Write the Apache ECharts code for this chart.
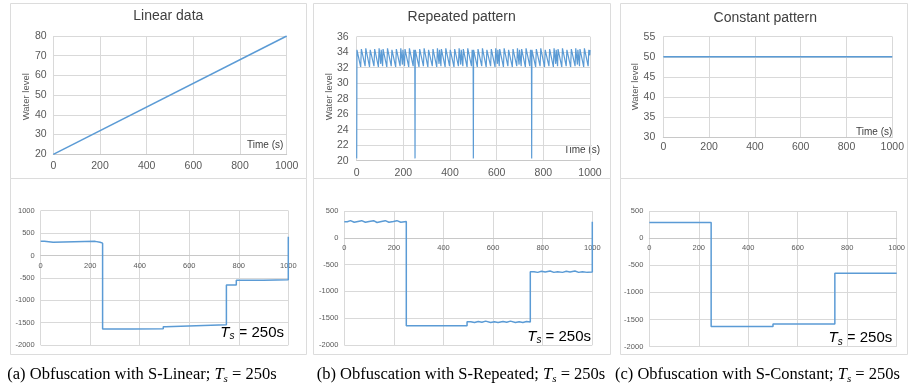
<!DOCTYPE html>
<html><head><meta charset="utf-8">
<script src="https://cdn.jsdelivr.net/npm/echarts@6/dist/echarts.min.js"></script>
<style>html,body{margin:0;padding:0;background:#fff}#c{width:911px;height:385px}</style>
</head><body><div id="c"></div>
<script>
// ---- data ----
const linTime = [0, 1000];
const linLevel = [20, 80];
const conTime = [0, 1000];
const conLevel = [50, 50];
// one 250 s period of the repeated pattern (offset in s, level)
const repOffset = [0, 1, 17, 20, 36, 39, 55, 58, 74, 77, 93, 96, 103, 105, 111, 113, 129, 132, 148, 151, 167, 170, 186, 189, 196, 198, 205, 207, 223, 226, 242, 245, 249];
const repLevel = [20.3, 34.3, 32.1, 34.4, 32.2, 34.5, 32.1, 34.3, 32.2, 34.4, 32.1, 34.5, 32.5, 34.3, 32.2, 34.4, 32.1, 34.5, 32.2, 34.3, 32.1, 34.4, 32.2, 34.5, 32.4, 34.3, 32.2, 34.4, 32.1, 34.5, 32.2, 34.3, 33.6];
const repPeriods = [0, 250, 500, 750];
const repEnd = [1000, 34.3];
// obfuscated (step) series: value holds from time[i] until time[i+1]
const blTime = [0, 15, 50, 220, 240, 250, 370, 495, 505, 750, 790, 900, 1000];
const blValue = [320, 295, 315, 295, 275, -1645, -1638, -1590, -1550, -660, -555, -545, 420];
const bmTime = [0, 12, 25, 40, 55, 70, 85, 100, 118, 132, 150, 165, 180, 198, 212, 228, 250, 495, 510, 525, 540, 555, 570, 590, 605, 620, 640, 655, 670, 690, 705, 720, 735, 750, 765, 780, 795, 810, 830, 845, 860, 880, 895, 910, 930, 945, 960, 980, 1000];
const bmValue = [300, 320, 290, 305, 320, 290, 305, 320, 285, 305, 320, 290, 305, 320, 290, 305, -1640, -1565, -1580, -1560, -1575, -1555, -1580, -1565, -1580, -1560, -1575, -1555, -1580, -1565, -1580, -1560, -1570, -632, -645, -625, -640, -620, -645, -632, -645, -625, -640, -620, -645, -632, -645, -640, 300];
const brTime = [0, 250, 500, 750, 1000];
const brValue = [290, -1630, -1580, -648, -648];
const xTicks = {min: 0, max: 1000, interval: 200};
const titles = ['Linear data', 'Repeated pattern', 'Constant pattern'];
const captions = ['(a) Obfuscation with S-Linear; ', '(b) Obfuscation with S-Repeated; ', '(c) Obfuscation with S-Constant; '];

// ---- build ----
const zip = (a, b) => a.map((t, i) => [t, b[i]]);
const repData = [];
repPeriods.forEach(p => repOffset.forEach((o, i) => repData.push([p + o, repLevel[i]])));
repData.push(repEnd);

const BLUE = '#5b9bd5', GRID = '#d9d9d9', LBL = '#595959';
const SANS = 'Liberation Sans, Arial, sans-serif';
const SERIF = 'Liberation Serif, Times New Roman, serif';
const plain = v => String(v);

const grids = [
  {left: 53.3, top: 36, width: 233.4, height: 118.3},
  {left: 356.7, top: 36.7, width: 233.3, height: 124},
  {left: 663.3, top: 36.7, width: 229, height: 100.6},
  {left: 40.7, top: 210.7, width: 247.6, height: 134.3},
  {left: 344.3, top: 211, width: 248, height: 134},
  {left: 649.3, top: 211, width: 247.4, height: 135.7}
];
const yCfg = [
  {min: 20, max: 80, interval: 10, fs: 10.5, m: 6.6},
  {min: 20, max: 36, interval: 2, fs: 10.5, m: 8},
  {min: 30, max: 55, interval: 5, fs: 10.5, m: 8},
  {min: -2000, max: 1000, interval: 500, fs: 7.5, m: 6},
  {min: -2000, max: 500, interval: 500, fs: 7.5, m: 6},
  {min: -2000, max: 500, interval: 500, fs: 7.5, m: 6}
];
const xMargin = [6, 7, 4, 6, 6, 6];
// bottom panels: x axis sits on the zero line (offset from the grid bottom, derived from the y range)
const zeroOffset = i => {
  const c = yCfg[i];
  if (c.min >= 0) return 0;
  return -grids[i].height * (0 - c.min) / (c.max - c.min);
};

const xAxis = grids.map((g, i) => ({
  type: 'value', gridIndex: i, min: xTicks.min, max: xTicks.max, interval: xTicks.interval,
  position: 'bottom', offset: zeroOffset(i),
  axisLine: {show: true, onZero: false, lineStyle: {color: '#c8c8c8', width: 1}},
  axisTick: {show: false},
  axisLabel: {color: LBL, fontFamily: SANS, fontSize: i < 3 ? 10.5 : 7.5, margin: xMargin[i], showMinLabel: true, showMaxLabel: true, formatter: plain},
  splitLine: {show: true, lineStyle: {color: GRID, width: 1}}
}));
const yAxis = yCfg.map((c, i) => ({
  type: 'value', gridIndex: i, min: c.min, max: c.max, interval: c.interval,
  axisLine: {show: false}, axisTick: {show: false},
  axisLabel: {color: LBL, fontFamily: SANS, fontSize: c.fs, margin: c.m, formatter: plain},
  splitLine: {show: true, lineStyle: {color: GRID, width: 1}}
}));

const lineSeries = (i, data, step, w) => ({
  type: 'line', xAxisIndex: i, yAxisIndex: i, data: data, step: step || false,
  showSymbol: false, symbol: 'none', animation: false,
  lineStyle: {color: BLUE, width: w || 1.5}, z: 3
});
const series = [
  lineSeries(0, zip(linTime, linLevel)),
  lineSeries(1, repData, false, 1.2),
  lineSeries(2, zip(conTime, conLevel)),
  lineSeries(3, zip(blTime, blValue), 'end'),
  lineSeries(4, zip(bmTime, bmValue), 'end'),
  lineSeries(5, zip(brTime, brValue), 'end')
];

const graphic = [];
// panel borders
[[10, 3, 296, 175], [313, 3, 297, 175], [620, 3, 287, 175],
 [10, 178, 296, 176], [313, 178, 297, 176], [620, 178, 287, 176]].forEach(r => {
  graphic.push({type: 'rect', shape: {x: r[0] + 0.5, y: r[1] + 0.5, width: r[2], height: r[3]},
    style: {fill: 'none', stroke: '#dcdcdc', lineWidth: 1}, silent: true, z: -1});
});
// titles
[[168.3, 16.5], [461.7, 17], [765.3, 18.5]].forEach((p, i) => {
  graphic.push({type: 'text', x: p[0], y: p[1], style: {text: titles[i], font: '14px ' + SANS, fill: '#404040', textAlign: 'center', textVerticalAlign: 'middle'}});
});
// y-axis names
[[26.7, 96.7], [329, 96.7], [635.7, 86.7]].forEach(p => {
  graphic.push({type: 'text', x: p[0], y: p[1], rotation: Math.PI / 2, style: {text: 'Water level', font: '9.5px ' + SANS, fill: LBL, textAlign: 'center', textVerticalAlign: 'middle'}});
});
// x-axis names
[[283.3, 145.7], [600, 150], [892.3, 132.7]].forEach(p => {
  graphic.push({type: 'text', x: p[0], y: p[1], style: {text: 'Time (s)', font: '10px ' + SANS, fill: '#404040', textAlign: 'right', textVerticalAlign: 'middle'}});
});
// Ts = 250s labels
[[284, 332.7], [591, 336.7], [892.3, 338.3]].forEach(p => {
  graphic.push({type: 'text', x: p[0], y: p[1], style: {
    text: '{t|T}{s|s}{n| = 250s}', textAlign: 'right', textVerticalAlign: 'middle',
    rich: {
      t: {font: 'italic 15px ' + SANS, fill: '#000', lineHeight: 18, verticalAlign: 'middle'},
      s: {font: 'italic 10px ' + SANS, fill: '#000', lineHeight: 18, verticalAlign: 'bottom'},
      n: {font: '15px ' + SANS, fill: '#000', lineHeight: 18, verticalAlign: 'middle'}
    }}});
});
// captions
[7.3, 316.7, 615].forEach((x, i) => {
  graphic.push({type: 'text', x: x, y: 375, style: {
    text: '{n|' + captions[i] + '}{t|T}{s|s}{n| = 250s}', textAlign: 'left', textVerticalAlign: 'middle',
    rich: {
      n: {font: '16.5px ' + SERIF, fill: '#000', lineHeight: 20, verticalAlign: 'middle'},
      t: {font: 'italic 16.5px ' + SERIF, fill: '#000', lineHeight: 20, verticalAlign: 'middle'},
      s: {font: 'italic 11px ' + SERIF, fill: '#000', lineHeight: 20, verticalAlign: 'bottom'}
    }}});
});

const chart = echarts.init(document.getElementById('c'), null, {renderer: 'canvas'});
chart.setOption({
  animation: false, backgroundColor: '#fff',
  grid: grids.map(g => Object.assign({containLabel: false}, g)),
  xAxis: xAxis, yAxis: yAxis, series: series, graphic: graphic
});
</script></body></html>
